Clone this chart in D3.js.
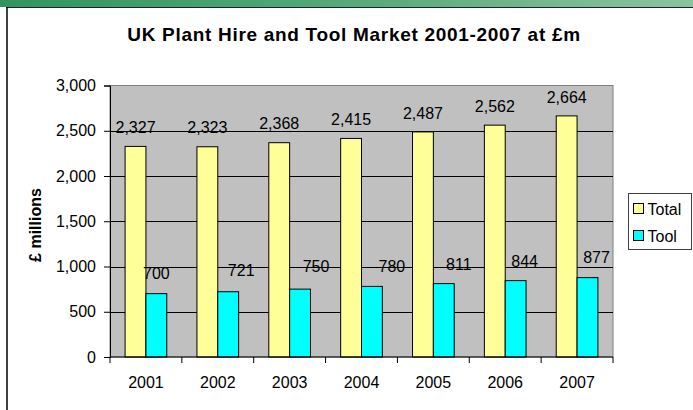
<!DOCTYPE html>
<html>
<head>
<meta charset="utf-8">
<script src="https://cdn.jsdelivr.net/npm/d3@7"></script>
<style>
  html, body { margin: 0; padding: 0; background: #fff; }
  svg { display: block; font-family: Arial, "Liberation Sans", sans-serif; }
</style>
</head>
<body>
<svg id="chart" width="693" height="410"></svg>
<script>
// Market size, £ millions
const years = ["2001", "2002", "2003", "2004", "2005", "2006", "2007"];
const totalValues = [2327, 2323, 2368, 2415, 2487, 2562, 2664];
const toolValues = [700, 721, 750, 780, 811, 844, 877];
const seriesNames = ["Total", "Tool"];
const yTicks = [0, 500, 1000, 1500, 2000, 2500, 3000];

// Hand-placed offsets of the Tool value labels (px)
const toolLabelDx = [0, 13, 16, 20, 15, 9, 9];
const toolLabelGap = [14.3, 15.6, 16.7, 14, 13.7, 13.4, 14.3];

const colors = { Total: "#ffff99", Tool: "#00ffff" };

const svg = d3.select("#chart");

// Header band and frame
const defs = svg.append("defs");
const grad = defs.append("linearGradient").attr("id", "band").attr("x1", "0").attr("x2", "1");
grad.append("stop").attr("offset", "0").attr("stop-color", "#2f9560");
grad.append("stop").attr("offset", "0.55").attr("stop-color", "#5aab7e");
grad.append("stop").attr("offset", "1").attr("stop-color", "#8cc3a0");
svg.append("rect").attr("x", 0).attr("y", 0).attr("width", 693).attr("height", 7).attr("fill", "url(#band)");
svg.append("line").attr("x1", 6).attr("x2", 693).attr("y1", 7.5).attr("y2", 7.5)
  .attr("stroke", "#222").attr("stroke-width", 1);
svg.append("line").attr("x1", 7).attr("x2", 7).attr("y1", 7).attr("y2", 410)
  .attr("stroke", "#000").attr("stroke-width", 1.5);

// Plot geometry
const plot = { left: 110, right: 613, top: 85.5, bottom: 357 };

const x = d3.scaleBand().domain(years).range([plot.left, plot.right])
  .paddingInner(0.42).paddingOuter(0.21);
const xs = d3.scaleBand().domain(seriesNames).range([0, x.bandwidth()]);
const y = d3.scaleLinear().domain([0, 3000]).range([plot.bottom, plot.top]);

// Plot area
svg.append("rect")
  .attr("x", plot.left).attr("y", plot.top)
  .attr("width", plot.right - plot.left).attr("height", plot.bottom - plot.top)
  .attr("fill", "#c0c0c0").attr("stroke", "#808080").attr("stroke-width", 1);

// Gridlines
svg.append("g").selectAll("line").data(yTicks.filter(d => d > 0 && d < 3000)).join("line")
  .attr("x1", plot.left).attr("x2", plot.right)
  .attr("y1", d => Math.round(y(d)) + 0.5).attr("y2", d => Math.round(y(d)) + 0.5)
  .attr("stroke", "#000").attr("stroke-width", 1);

// Bars
const groups = svg.append("g").selectAll("g").data(years).join("g")
  .attr("transform", d => `translate(${x(d)},0)`);
groups.append("rect")
  .attr("x", xs("Total")).attr("width", xs.bandwidth())
  .attr("y", (d, i) => y(totalValues[i])).attr("height", (d, i) => y(0) - y(totalValues[i]))
  .attr("fill", colors.Total).attr("stroke", "#000").attr("stroke-width", 1);
groups.append("rect")
  .attr("x", xs("Tool")).attr("width", xs.bandwidth())
  .attr("y", (d, i) => y(toolValues[i])).attr("height", (d, i) => y(0) - y(toolValues[i]))
  .attr("fill", colors.Tool).attr("stroke", "#000").attr("stroke-width", 1);

// Value labels
const fmt = d3.format(",");
groups.append("text")
  .attr("x", xs("Total") + xs.bandwidth() / 2)
  .attr("y", (d, i) => y(totalValues[i]) - 13.4)
  .attr("text-anchor", "middle").attr("font-size", 16).attr("fill", "#000")
  .text((d, i) => fmt(totalValues[i]));
groups.append("text")
  .attr("x", (d, i) => xs("Tool") + xs.bandwidth() / 2 + toolLabelDx[i])
  .attr("y", (d, i) => y(toolValues[i]) - toolLabelGap[i])
  .attr("text-anchor", "middle").attr("font-size", 16).attr("fill", "#000")
  .text((d, i) => fmt(toolValues[i]));

// Y axis
const yAxis = svg.append("g").attr("transform", `translate(${plot.left},0)`)
  .call(d3.axisLeft(y).tickValues(yTicks).tickSize(6).tickPadding(8).tickFormat(fmt));
yAxis.select(".domain").attr("stroke", "#000");
yAxis.selectAll(".tick line").attr("stroke", "#000");
yAxis.selectAll("text").attr("font-size", 16).attr("fill", "#000")
  .attr("font-family", "Arial, 'Liberation Sans', sans-serif");

// X axis with ticks at category boundaries
const xAxis = svg.append("g").attr("transform", `translate(0,${plot.bottom})`);
xAxis.append("line").attr("x1", plot.left).attr("x2", plot.right).attr("y1", 0).attr("y2", 0)
  .attr("stroke", "#000");
const step = x.step();
const bounds = d3.range(years.length + 1).map(i => plot.left + i * step);
xAxis.selectAll(".bt").data(bounds).join("line").attr("class", "bt")
  .attr("x1", d => d).attr("x2", d => d).attr("y1", 0).attr("y2", 6).attr("stroke", "#000");
xAxis.selectAll(".yl").data(years).join("text").attr("class", "yl")
  .attr("x", d => x(d) + x.bandwidth() / 2).attr("y", 31)
  .attr("text-anchor", "middle").attr("font-size", 16).attr("fill", "#000")
  .text(d => d);

// Titles
svg.append("text").attr("x", 354).attr("y", 41).attr("text-anchor", "middle")
  .attr("font-size", 19).attr("font-weight", "bold").attr("fill", "#000")
  .attr("letter-spacing", 0.7)
  .text("UK Plant Hire and Tool Market 2001-2007 at £m");
svg.append("text").attr("transform", "translate(41,225) rotate(-90)")
  .attr("text-anchor", "middle").attr("font-size", 16).attr("font-weight", "bold").attr("fill", "#000")
  .text("£ millions");

// Legend
const legend = svg.append("g").attr("transform", "translate(628.5,193.5)");
legend.append("rect").attr("width", 63).attr("height", 56)
  .attr("fill", "#fff").attr("stroke", "#404040").attr("stroke-width", 1);
const items = legend.selectAll(".li").data(seriesNames).join("g").attr("class", "li")
  .attr("transform", (d, i) => `translate(5,${15 + i * 27})`);
items.append("rect").attr("x", 0).attr("y", -5).attr("width", 10).attr("height", 10)
  .attr("fill", d => colors[d]).attr("stroke", "#000").attr("stroke-width", 1);
items.append("text").attr("x", 14).attr("y", 6).attr("font-size", 16).attr("fill", "#000")
  .text(d => d);
</script>
</body>
</html>
